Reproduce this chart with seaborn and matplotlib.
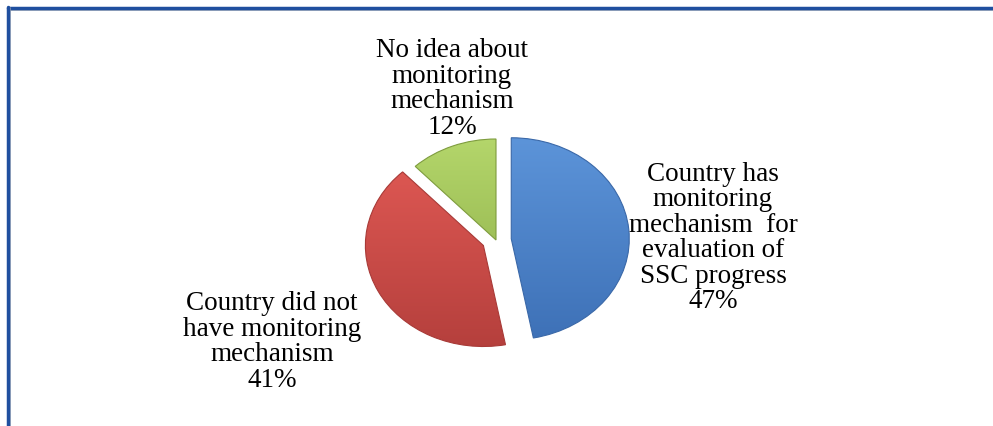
import matplotlib
matplotlib.use("Agg")
import matplotlib.pyplot as plt
import seaborn as sns
import numpy as np
from matplotlib.colors import LinearSegmentedColormap
from matplotlib.lines import Line2D

# Data
labels = ["Country has\nmonitoring\nmechanism  for\nevaluation of\nSSC progress",
          "Country did not\nhave monitoring\nmechanism",
          "No idea about\nmonitoring\nmechanism"]
shares = [47, 41, 12]

# Styles (top / bottom colours of each slice gradient)
top_colors = ["#5d95da", "#e35b56", "#b5d76c"]
bottom_colors = ["#3d70b6", "#b43f3c", "#88a943"]
edge_colors = ["#3a68a8", "#a83a37", "#7e9c3e"]

sns.set_style("white")
plt.rcParams["font.family"] = ["Liberation Serif", "DejaVu Serif"]

W, H = 993, 426
fig = plt.figure(figsize=(W / 100, H / 100), dpi=100)
ax = fig.add_axes([0, 0, 1, 1])

# pie centre and radii in pixels (pie is a bit wider than tall)
cx, cy, rx, ry = 496, 240, 118, 101


def px(x, y):
    return (x - cx) / rx, (cy - y) / ry


wedges, _ = ax.pie(shares, startangle=90, counterclock=False,
                   explode=[0.13, 0.12, 0.0], colors=top_colors,
                   wedgeprops=dict(linewidth=0.8))

# vertical gradient for each slice
for w, c1, c2, ec in zip(wedges, top_colors, bottom_colors, edge_colors):
    w.set_edgecolor(ec)
    cmap = LinearSegmentedColormap.from_list("g", [c2, c1])
    grad = np.linspace(0, 1, 256).reshape(-1, 1)
    x0, y0 = w.center[0] - 1.05, w.center[1] - 1.05
    im = ax.imshow(grad, cmap=cmap, origin="lower", aspect="auto",
                   extent=(x0, x0 + 2.1, y0, y0 + 2.1), zorder=w.get_zorder() + 0.1)
    im.set_clip_path(w)
    w.set_zorder(w.get_zorder() + 0.2)
    w.set_facecolor("none")

ax.set_xlim(-cx / rx, (W - cx) / rx)
ax.set_ylim(-(H - cy) / ry, cy / ry)
ax.set_aspect("auto")
ax.axis("off")

# labels
label_pos = [(713, 238), (272, 342), (452, 89)]
for lab, s, (lx, ly) in zip(labels, shares, label_pos):
    tx, ty = px(lx, ly)
    ax.text(tx, ty, f"{lab}\n{s}%", ha="center", va="center",
            fontsize=19.5, linespacing=1.02, color="black")

# frame lines (top and left only)
fig.add_artist(Line2D([7.5 / W, 1], [1 - 10 / H, 1 - 10 / H], transform=fig.transFigure,
                      color="#9aa4b4", lw=1.2))
fig.add_artist(Line2D([7.5 / W, 1], [1 - 8 / H, 1 - 8 / H], transform=fig.transFigure,
                      color="#1f4f9f", lw=2.5))
fig.add_artist(Line2D([9.5 / W, 9.5 / W], [0, 1 - 8 / H], transform=fig.transFigure,
                      color="#9aa4b4", lw=1.2))
fig.add_artist(Line2D([7.5 / W, 7.5 / W], [0, 1 - 7 / H], transform=fig.transFigure,
                      color="#1f4f9f", lw=2.5))

fig.savefig("out.png", dpi=100, facecolor="white")
